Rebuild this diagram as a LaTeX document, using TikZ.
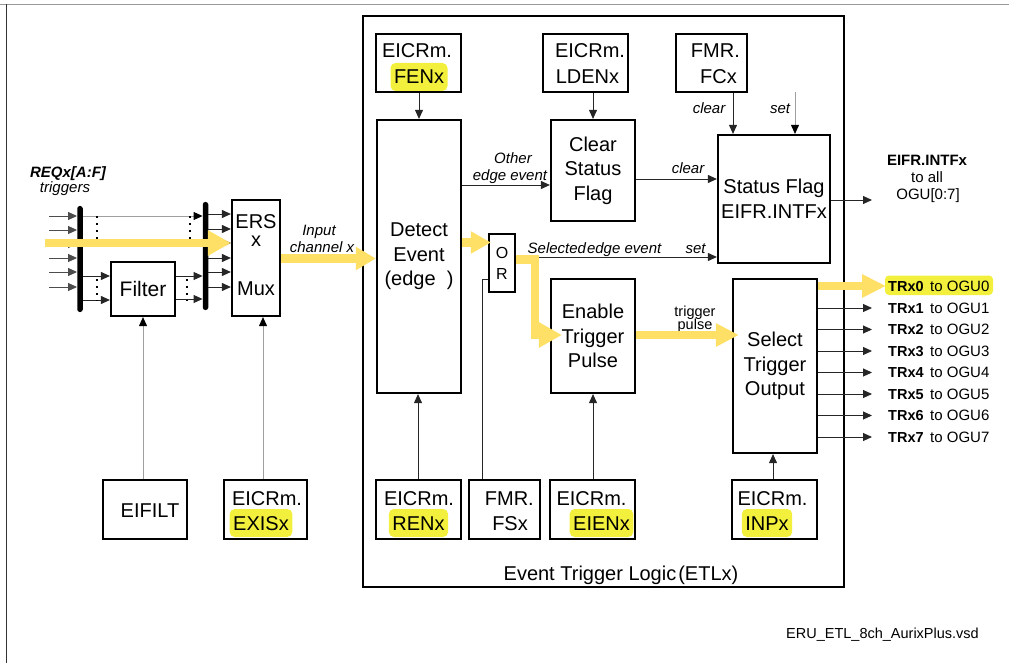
\documentclass[tikz,border=0pt]{standalone}
\usepackage{fontspec}
\setmainfont{Liberation Sans}
\usetikzlibrary{arrows.meta}
\definecolor{ay}{RGB}{255,224,102}
\definecolor{hy}{RGB}{242,240,60}
\begin{document}
\begin{tikzpicture}[x=1pt,y=-1pt,
 box/.style={draw=black,line width=2.2pt,inner sep=0pt,align=center,font=\fontsize{20}{24.5}\selectfont},
 bt/.style={inner sep=0pt,anchor=base,font=\fontsize{20}{24}\selectfont},
 hl/.style={bt,fill=hy,rounded corners=5pt,inner xsep=3.5pt,text height=21pt,text depth=7pt},
 st/.style={inner sep=0pt,anchor=base,font=\fontsize{15}{18}\selectfont},
 sti/.style={st,font=\fontsize{15}{18}\selectfont\itshape},
 ln/.style={line width=0.9pt,draw=black!85},
 tip/.style={-{Triangle[length=9pt,width=8pt]}},
 gtip/.style={line width=0.9pt,draw=gray!75,-{Triangle[length=9pt,width=8pt,color=black]}},
 ya/.style={draw=ay,line width=8.5pt,line join=miter}
]
\useasboundingbox (0,0) rectangle (1009,663);
\draw[gray!80,line width=1.5pt] (0,4.5) -- (1009,4.5);
\draw[black!80,line width=1.5pt] (6.5,4.5) -- (6.5,663);

% ETL frame
\node[box,line width=2pt,minimum width=481pt,minimum height=571pt] (etl) at (603.5,301.5) {};
\node[bt] at (621,580.5) {Event Trigger Logic\hspace{0.1em}(ETLx)};

% top register boxes
\node[box,minimum width=85pt,minimum height=58pt] (fen) at (418.5,63) {};
\node[bt] at (417,58) {EICRm.};
\node[hl] at (419,84) {FENx};
\node[box,minimum width=85pt,minimum height=58pt] (lden) at (585.5,63) {};
\node[bt] at (590,58) {EICRm.};
\node[bt] at (587.5,84) {LDENx};
\node[box,minimum width=71pt,minimum height=58pt] (fc) at (711.5,63) {};
\node[bt,anchor=base east] at (740,58) {FMR.};
\node[bt,anchor=base east] at (737,84) {FCx};

% main blocks
\node[box,minimum width=84pt,minimum height=273pt] (det) at (419,256.5) {Detect\\Event\\(edge\ \ )};
\node[box,minimum width=84pt,minimum height=101pt] (csf) at (593,170.5) {Clear\\Status\\Flag};
\node[box,minimum width=112pt,minimum height=128pt] (sf) at (774,199) {Status Flag\\EIFR.INTFx};
\node[box,minimum width=84pt,minimum height=114pt] (etp) at (593,336) {Enable\\Trigger\\Pulse};
\node[box,minimum width=84pt,minimum height=174pt] (sto) at (775,366) {Select\\Trigger\\Output};
\node[box,minimum width=26pt,minimum height=58pt,font=\fontsize{16}{21}\selectfont] (or) at (502,263) {O\\R};
\node[box,minimum width=48pt,minimum height=116pt] (mux) at (256,258) {};
\node[bt] at (256,229) {ERS};
\node[bt] at (256,247) {x};
\node[bt] at (256,295) {Mux};
\node[box,minimum width=64pt,minimum height=54pt,font=\fontsize{21}{24}\selectfont] (filt) at (143,289) {Filter};

% bottom register boxes
\node[box,line width=1.5pt,minimum width=84pt,minimum height=59pt] (eifilt) at (145,509.5) {};
\node[bt] at (150,517) {EIFILT};
\node[box,minimum width=83pt,minimum height=59pt] (exis) at (265.5,509.5) {};
\node[bt] at (267,505) {EICRm.};
\node[hl] at (261,530) {EXISx};
\node[box,minimum width=85pt,minimum height=59pt] (ren) at (418.5,509.5) {};
\node[bt] at (419,505) {EICRm.};
\node[hl] at (418.5,530) {RENx};
\node[box,minimum width=71pt,minimum height=59pt] (fsx) at (504.5,509.5) {};
\node[bt,anchor=base east] at (534,505) {FMR.};
\node[bt,anchor=base east] at (528,530) {FSx};
\node[box,minimum width=85pt,minimum height=59pt] (eien) at (592.5,509.5) {};
\node[bt] at (591.5,505) {EICRm.};
\node[hl] at (601.5,530) {EIENx};
\node[box,minimum width=85pt,minimum height=59pt] (inp) at (774.5,509.5) {};
\node[bt] at (772.5,505) {EICRm.};
\node[hl] at (767,530) {INPx};

% bars
\node[fill=black,inner sep=0pt,minimum width=5.5pt,minimum height=106pt,rounded corners=2.5pt] (lbar) at (80,259) {};
\node[fill=black,inner sep=0pt,minimum width=5.5pt,minimum height=108pt,rounded corners=2.5pt] (rbar) at (205.5,256) {};

% left labels
\node[st,font=\fontsize{15}{18}\selectfont\bfseries\itshape] at (68,178) {REQx[A:F]};
\node[sti] at (65,193) {triggers};
\node[sti] at (319,235) {Input};
\node[sti] at (322,252.7) {channel x};

% input arrows
\foreach \y in {216,230,244,258,272,287} {
  \coordinate (i\y) at (49,\y);
  \draw[ln,draw=black!70,tip] (i\y) -- (lbar.west |- i\y);
}
\draw[gtip] (lbar.east |- 0,216) -- (rbar.west |- 0,216);
\draw[ln,tip] (lbar.east |- 0,276) -- (filt.west |- 0,276);
\draw[ln,tip] (lbar.east |- 0,300) -- (filt.west |- 0,300);
\draw[ln,tip] (filt.east |- 0,276) -- (rbar.west |- 0,276);
\draw[ln,tip] (filt.east |- 0,299) -- (rbar.west |- 0,299);
\foreach \y in {214,229,243,258,272,287} {
  \draw[ln,tip] (rbar.east |- 0,\y) -- (mux.west |- 0,\y);
}
\foreach \x/\a/\b in {97/216/240,190/216/240,97/279/301,187/279/301} {
  \draw[line width=1.6pt,dash pattern=on 1.6pt off 5.4pt] (\x,\a) -- (\x,\b);
}

% vertical control connectors
\draw[gtip] (eifilt.north -| 143,0) -- (filt.south -| 143,0);
\draw[gtip] (exis.north -| 263,0) -- (mux.south -| 263,0);
\draw[ln,tip] (fen.south -| 419,0) -- (det.north -| 419,0);
\draw[ln,tip] (lden.south -| csf.north) -- (csf.north);
\draw[ln,tip] (fc.south -| 733,0) -- (sf.north -| 733,0);
\coordinate (setin) at (795,92);
\draw[gtip] (setin) -- (sf.north -| setin);
\draw[ln,tip] (ren.north -| 418,0) -- (det.south -| 418,0);
\draw[ln] (fsx.north -| 482,0) |- (or.west |- 0,279);
\draw[ln,tip] (eien.north -| 593,0) -- (etp.south -| 593,0);
\draw[ln,tip] (inp.north -| 773,0) -- (sto.south -| 773,0);

% horizontal connectors
\draw[ln,tip] (det.east |- 0,185) -- (csf.west |- 0,185);
\node[sti] at (513,164) {Other};
\node[sti] at (510,181) {edge event};
\draw[ln,tip] (csf.east |- 0,179) -- (sf.west |- 0,179);
\node[sti] at (688,173.5) {clear};
\node[sti] at (709,114) {clear};
\node[sti] at (780,114) {set};
\draw[ln,tip] (or.east |- 0,257) -- (sf.west |- 0,257);
\node[sti] at (594.5,253) {Selected\hspace{1pt}edge event};
\node[sti] at (695.5,253) {set};
\coordinate (sfo) at (872,200);
\draw[ln,tip] (sf.east |- sfo) -- (sfo);
\node[st,font=\fontsize{15}{18}\selectfont\bfseries] at (927,165.7) {EIFR.INTFx};
\node[st] at (927,183) {to all};
\node[st] at (928,200) {OGU[0:7]};
\node[st,font=\fontsize{14.5}{16}\selectfont] at (695,316.5) {trigger};
\node[st,font=\fontsize{14.5}{16}\selectfont] at (695,329) {pulse};

% outputs
\fill[hy,rounded corners=4pt] (885,275.5) rectangle (993,295);
\foreach \i/\y in {1/308,2/329.5,3/351,4/372.5,5/394,6/415.5,7/437} {
  \coordinate (o\i) at (872,\y);
  \draw[ln,tip] (sto.east |- o\i) -- (o\i);
}
\foreach \i/\y in {0/286,1/308,2/329.5,3/351,4/372.5,5/394,6/415.5,7/437} {
  \node[st,anchor=base west,font=\fontsize{14.5}{16}\selectfont\bfseries] at (888,{\y+5.2}) {TRx\i};
  \node[st,anchor=base west,font=\fontsize{15}{16}\selectfont] at (930,{\y+5.2}) {to OGU\i};
}

% yellow signal path
\coordinate (yin) at (45,243);
\draw[ya,-{Triangle[length=23pt,width=24pt]}] (yin) -- (mux.west |- yin);
\draw[ya,-{Triangle[length=20pt,width=22pt]}] (mux.east |- 0,258.5) -- (det.west |- 0,258.5);
\draw[ya,shorten >=-3pt,-{Triangle[length=20pt,width=21pt]}] (det.east |- 0,242.5) -- (or.west |- 0,242.5);
\draw[ya,shorten >=-12pt,-{Triangle[length=23pt,width=24pt]}] (or.east |- 0,259.5) -| (535,335) -- (etp.west |- 0,335);
\draw[ya,shorten >=-7pt,-{Triangle[length=23pt,width=22pt]}] (etp.east |- 0,335) -- (sto.west |- 0,335);
\coordinate (tr0) at (886,286);
\draw[ya,-{Triangle[length=24pt,width=22pt]}] (sto.east |- tr0) -- (tr0);

% file name
\node[st,font=\fontsize{14.5}{16}\selectfont] at (882.5,638) {ERU\_ETL\_8ch\_AurixPlus.vsd};
\end{tikzpicture}
\end{document}
